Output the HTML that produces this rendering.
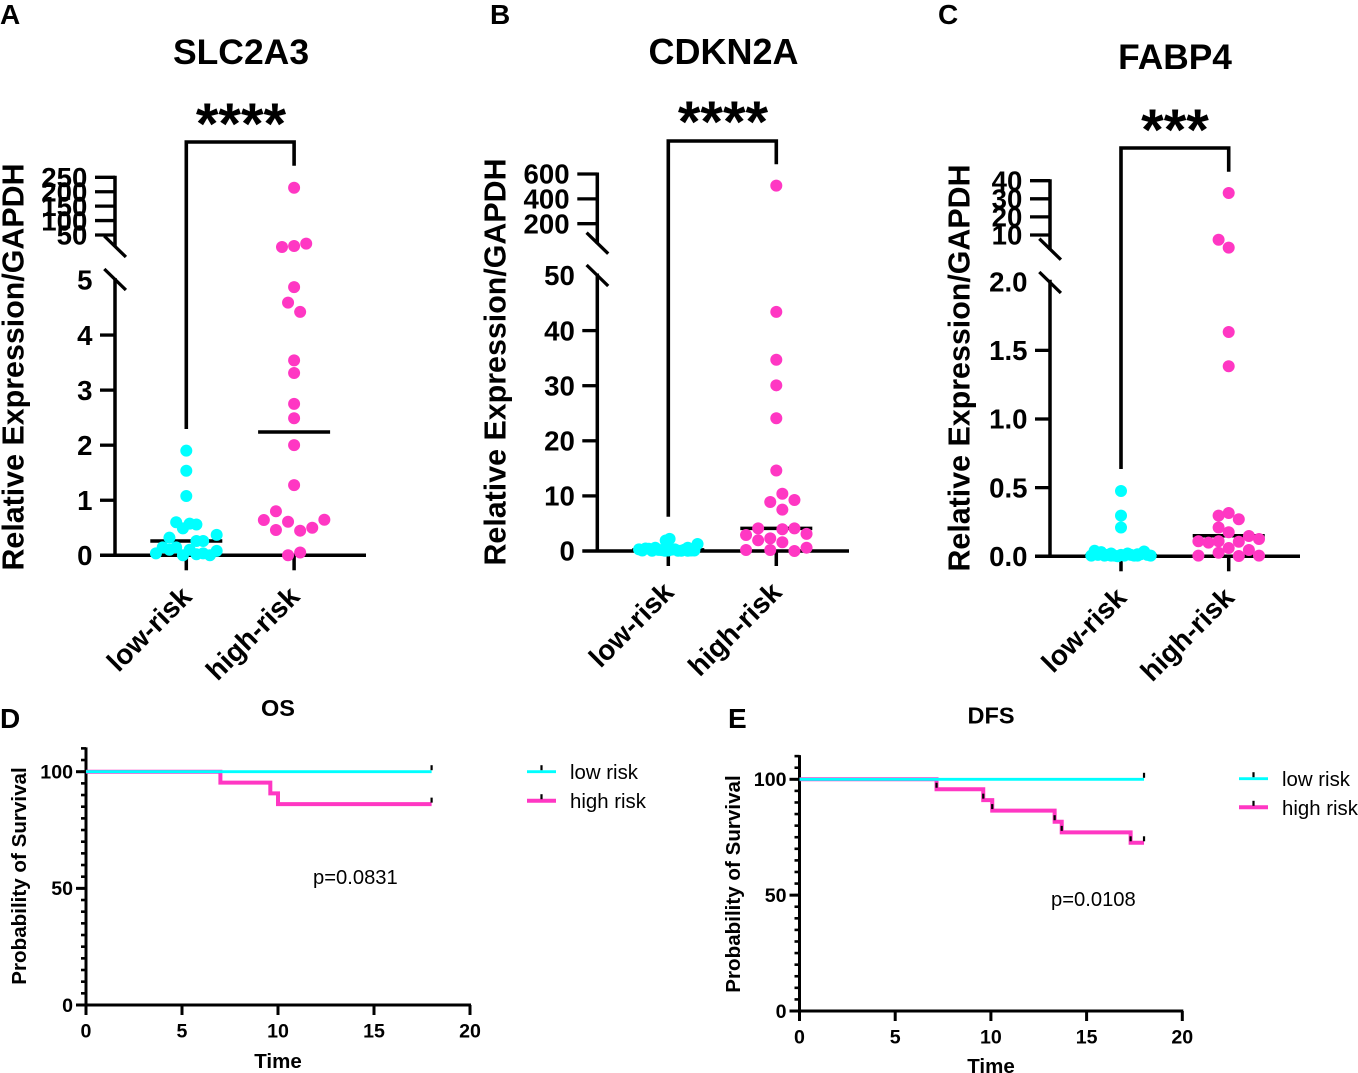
<!DOCTYPE html>
<html>
<head>
<meta charset="utf-8">
<title>Expression and survival panels</title>
<style>
html,body{margin:0;padding:0;background:#fff;}
svg{display:block;font-family:"Liberation Sans",sans-serif;}
.b{font-weight:bold;}
</style>
</head>
<body>
<svg id="fig" width="1358" height="1073" viewBox="0 0 1358 1073" xmlns="http://www.w3.org/2000/svg">
<rect width="1358" height="1073" fill="#fff"/>
<text class="b" x="0" y="24" font-size="28">A</text>
<text class="b" x="490" y="24" font-size="28">B</text>
<text class="b" x="938" y="24" font-size="28">C</text>
<text class="b" x="0" y="728" font-size="28">D</text>
<text class="b" x="728" y="728" font-size="28">E</text>

<text class="b" x="241" y="64" font-size="35.5" text-anchor="middle">SLC2A3</text>
<text class="b" x="723.5" y="64" font-size="36" text-anchor="middle">CDKN2A</text>
<text class="b" x="1175" y="69" font-size="35.3" text-anchor="middle">FABP4</text>

<text class="b" x="241" y="144" font-size="58" text-anchor="middle">****</text>
<text class="b" x="723" y="142" font-size="58" text-anchor="middle">****</text>
<text class="b" x="1175" y="150" font-size="58" text-anchor="middle">***</text>

<text class="b" font-size="30.4" text-anchor="middle" transform="translate(23.5 367) rotate(-90)">Relative Expression/GAPDH</text>
<text class="b" font-size="30.4" text-anchor="middle" transform="translate(505.5 362) rotate(-90)">Relative Expression/GAPDH</text>
<text class="b" font-size="30.4" text-anchor="middle" transform="translate(969.5 368) rotate(-90)">Relative Expression/GAPDH</text>

<text class="b" x="278" y="716" font-size="23.5" text-anchor="middle">OS</text>
<text class="b" x="991" y="723.5" font-size="23.5" text-anchor="middle">DFS</text>
<text class="b" x="278" y="1068" font-size="20.5" text-anchor="middle">Time</text>
<text class="b" x="991" y="1073" font-size="20.5" text-anchor="middle">Time</text>
<text class="b" font-size="20.6" text-anchor="middle" transform="translate(26 876) rotate(-90)">Probability of Survival</text>
<text class="b" font-size="20.6" text-anchor="middle" transform="translate(740 884) rotate(-90)">Probability of Survival</text>
<text x="313" y="884" font-size="20.2">p=0.0831</text>
<text x="1051" y="906" font-size="20.2">p=0.0108</text>
<text x="570" y="779" font-size="20.4">low risk</text>
<text x="570" y="808" font-size="20.4">high risk</text>
<text x="1282" y="786" font-size="20.4">low risk</text>
<text x="1282" y="815" font-size="20.4">high risk</text>
</svg>

<script>
// ---------- Chart data ----------
const groupLabels = ['low-risk', 'high-risk'];

const slcLowValues  = [1.90, 1.535, 1.076, 0.60, 0.49, 0.575, 0.56, 0.32, 0.37, 0.26, 0.26, 0.145, 0.035, 0.10, 0.145, 0, 0.10, 0.02, 0.035, 0, 0.08];
const slcLowSlots   = [0, 0, 0, -1.5, -0.5, 0.5, 1.5, -2.5, 4.5, 1.5, 2.5, -3.5, -4.5, -2.5, -1.5, -0.5, 0.5, 1.5, 2.5, 3.5, 4.5];
const slcHighValues = [213.7, 8.5, 12, 20, 4.87, 4.59, 4.42, 3.54, 3.31, 2.75, 2.49, 2.0, 1.275, 0.80, 0.64, 0.61, 0.645, 0.46, 0.447, 0.50, 0, 0.05];
const slcHighSlots  = [0, -1, 0, 1, 0, -0.5, 0.5, 0, 0, 0, 0, 0, 0, -1.5, -2.5, -0.5, 2.5, -1.5, 0.5, 1.5, -0.5, 0.5];
const slcCenterLines = [0.26, 2.24];
const slcLowerTicks = [0, 1, 2, 3, 4];
const slcLowerTickLabels = ['0', '1', '2', '3', '4', '5'];
const slcUpperTicks = [50, 100, 150, 200, 250];

const cdkLowValues  = [2.2, 1.9, 1.27, 0.3, 0.45, 0.05, 0.2, 0.05, 0.25, 0.05, 0.25, 0.1, 0.4, 0.6, 0.1, 0.3, 0.05, 0.6, 0.2, 0.1, 0.1, 0.15, 0.05];
const cdkLowSlots   = [0.2, -0.4, 4.5, -4.5, -3.5, -2.5, -1.5, -0.5, 0.5, 1.5, 2.5, 3.5, -3, -2, 0, 1, 2, 3, 4, 4, -4, -1, 3];
const cdkHighValues = [506, 43.4, 34.7, 30.07, 24.1, 14.6, 10.4, 8.9, 9.25, 7.5, 4.1, 3.95, 4.1, 2.9, 3.1, 1.94, 2.3, 1.58, 0.18, 0.18, 0, 0.6];
const cdkHighSlots  = [0, 0, 0, 0, 0, 0, 0.5, -0.5, 1.5, 0.5, -1.5, 0.5, 1.5, -2.5, 2.5, -1.5, -0.5, 0.5, -2.5, -0.5, 1.5, 2.5];
const cdkCenterLines = [0.2, 4.1];
const cdkLowerTicks = [0, 10, 20, 30, 40];
const cdkLowerTickLabels = ['0', '10', '20', '30', '40', '50'];
const cdkUpperTicks = [200, 400, 600];

const fabLowValues  = [0.476, 0.296, 0.21, 0.005, 0.04, 0.01, 0.03, 0.005, 0.02, 0.0, 0.005, 0.005, 0.02, 0.01, 0.005, 0.015, 0.035, 0.01, 0.005, 0.01, 0.005, 0.01, 0.005, 0.015];
const fabLowSlots   = [0, 0, 0, -4.5, -4, -3.5, -3, -2.5, -1.5, -0.5, -1, 0.5, 1, 1.5, 2.5, 3, 3.5, 4, 4.5, -2, -1.5, 0, 2, 2.5];
const fabHighValues = [33.2, 7.4, 3, 1.634, 1.384, 0.315, 0.296, 0.27, 0.21, 0.175, 0.148, 0.126, 0.11, 0.10, 0.11, 0.106, 0.06, 0.046, 0.005, 0.026, 0.002, 0.005];
const fabHighSlots  = [0, -1, 0, 0, 0, 0, -1, 1, -1, 0, 2, 3, -3, -2, -1, 1, 0, 2, -3, -1, 1, 3];
const fabCenterLines = [0.005, 0.15];
const fabLowerTicks = [0, 0.5, 1.0, 1.5];
const fabLowerTickLabels = ['0.0', '0.5', '1.0', '1.5', '2.0'];
const fabUpperTicks = [10, 20, 30, 40];

const survivalTicks = [0, 50, 100];
const survivalMinorTicks = [0, 5, 10, 15, 20, 25, 30, 35, 40, 45, 50, 55, 60, 65, 70, 75, 80, 85, 90, 95, 100, 105, 110];
const timeTicks = [0, 5, 10, 15, 20];

const osLowTimes = [0, 18];
const osLowSurvival = [100, 100];
const osHighTimes = [0, 7, 9.6, 10, 18];
const osHighSurvival = [100, 95.3, 90.7, 86.1, 86.1];
const osLowCensorTimes = [18];
const osHighCensorTimes = [18];

const dfsLowTimes = [0, 18];
const dfsLowSurvival = [100, 100];
const dfsHighTimes = [0, 7.16, 9.6, 10.07, 13.33, 13.7, 17.3, 18];
const dfsHighSurvival = [100, 95.7, 91, 86.5, 81.7, 77.1, 72.6, 72.6];
const dfsLowCensorTimes = [18];
const dfsHighCensorTimes = [7.16, 9.6, 10.07, 13.33, 13.7, 17.3, 18];

// ---------- Rendering ----------
const CYAN = '#00ffff';
const PINK = '#ff37c3';
const NS = 'http://www.w3.org/2000/svg';
const fig = document.getElementById('fig');

function svgEl(tag, attrs, parent) {
  const el = document.createElementNS(NS, tag);
  for (const k in attrs) el.setAttribute(k, attrs[k]);
  (parent || fig).appendChild(el);
  return el;
}
function linearScale(d0, d1, r0, r1) {
  return v => r0 + (v - d0) * (r1 - r0) / (d1 - d0);
}
function seg(x1, y1, x2, y2, w, group) {
  return svgEl('line', {x1: x1, y1: y1, x2: x2, y2: y2, stroke: '#000', 'stroke-width': w}, group);
}

function drawDotPlot(cfg) {
  const g = svgEl('g', {});
  
  

  const lowerY = linearScale(0, cfg.lowerMax, cfg.zeroY, cfg.lowerMaxY);
  const upperY = linearScale(cfg.upperA, cfg.upperB, cfg.upperAY, cfg.upperBY);
  const y = v => v > cfg.lowerMax ? upperY(v) : lowerY(v);
  const catX = i => cfg.cat0X + i * cfg.catStep;

  // y axis lower segment
  const axisLower = seg(cfg.axisX, cfg.zeroY + 1.5, cfg.axisX, lowerY(cfg.lowerMax) - 2, 3.5, g);
  
  
  // y axis upper segment
  const axisUpper = seg(cfg.axisX, upperY(cfg.upperMaxTick) - 1.5, cfg.axisX, cfg.upperAxisEnd, 3.5, g);
  
  

  // axis break marks
  const slashA = seg(cfg.axisX - 10.7, cfg.slash1Y, cfg.axisX + 10.9, cfg.slash1Y + 21, 3.3, g);
  
  
  const slashB = seg(cfg.axisX - 10.7, cfg.slash2Y, cfg.axisX + 10.9, cfg.slash2Y + 21, 3.3, g);
  
  

  // lower ticks
  cfg.lowerTicks.forEach(v => {
    if (v === 0) return;
    const t = seg(cfg.axisX - 15, lowerY(v), cfg.axisX, lowerY(v), 3.3, g);
    
    
  });
  cfg.lowerLabels.forEach((s, i) => {
    const v = i * cfg.lowerMax / (cfg.lowerLabels.length - 1);
    const lb = svgEl('text', {x: cfg.axisX - 22.5, y: lowerY(v) + 9.7, 'font-size': 27.6, 'font-weight': 'bold', 'text-anchor': 'end'}, g);
    lb.textContent = s;
    
    
  });
  // upper ticks
  cfg.upperTicks.forEach(v => {
    const t = seg(cfg.axisX - 20, upperY(v), cfg.axisX, upperY(v), 3.3, g);
    
    
    const lb = svgEl('text', {x: cfg.axisX - 27.7, y: upperY(v) + 9.7, 'font-size': 27.6, 'font-weight': 'bold', 'text-anchor': 'end'}, g);
    lb.textContent = String(v);
    
    
  });

  // x axis
  const xAxis = seg(cfg.axisX - 15, cfg.zeroY, cfg.xAxisEnd, cfg.zeroY, 3.5, g);
  
  
  groupLabels.forEach((s, i) => {
    const t = seg(catX(i), cfg.zeroY, catX(i), cfg.zeroY + 15, 3.5, g);
    
    
    const ax = catX(i) + 7;
    const ay = cfg.zeroY + 43;
    const lb = svgEl('text', {'font-size': 28, 'font-weight': 'bold', 'text-anchor': 'end',
      transform: 'translate(' + ax + ' ' + ay + ') rotate(-45)'}, g);
    lb.textContent = s;
    
    
  });

  // significance bracket
  const bracket = svgEl('path', {
    d: 'M' + catX(0) + ' ' + cfg.bracketLeftEnd + 'V' + cfg.bracketY + 'H' + catX(1) + 'V' + cfg.bracketRightEnd,
    fill: 'none', stroke: '#000', 'stroke-width': 3.6}, g);
  
  

  // center lines
  cfg.centers.forEach((v, i) => {
    const m = seg(catX(i) - 36, y(v), catX(i) + 36, y(v), 3.5, g);
    
    
  });

  // low-risk dots
  cfg.lowValues.forEach((v, i) => {
    const c = svgEl('circle', {cx: catX(0) + cfg.lowSlots[i] * cfg.lowPitch, cy: y(v), r: 6, fill: CYAN}, g);
    
    
  });
  // high-risk dots
  cfg.highValues.forEach((v, i) => {
    const c = svgEl('circle', {cx: catX(1) + cfg.highSlots[i] * cfg.highPitch, cy: y(v), r: 6, fill: PINK}, g);
    
    
  });
}

function stepPath(times, surv, x, y) {
  let d = 'M' + x(times[0]) + ' ' + y(surv[0]);
  for (let i = 1; i < times.length; i++) {
    d += 'H' + x(times[i]) + 'V' + y(surv[i]);
  }
  return d;
}

function drawSurvival(cfg) {
  const g = svgEl('g', {});
  
  
  const x = linearScale(0, 20, cfg.x0, cfg.x20);
  const y = linearScale(0, 100, cfg.y0, cfg.y100);

  const yAxis = seg(cfg.x0, y(110) - 1, cfg.x0, cfg.y0 + 1, 3, g);
  
  
  const xAxis = seg(cfg.x0 - 10, cfg.y0, cfg.x20 + 1, cfg.y0, 3, g);
  
  

  survivalMinorTicks.forEach(v => {
    const t = seg(cfg.x0 - 5, y(v), cfg.x0, y(v), 2.6, g);
    
    
  });
  survivalTicks.forEach(v => {
    const t = seg(cfg.x0 - 10, y(v), cfg.x0, y(v), 3, g);
    
    
    const lb = svgEl('text', {x: cfg.x0 - 13, y: y(v) + 6.8, 'font-size': 19.6, 'font-weight': 'bold', 'text-anchor': 'end'}, g);
    lb.textContent = String(v);
    
    
  });
  timeTicks.forEach(v => {
    const t = seg(x(v), cfg.y0, x(v), cfg.y0 + 10, 3, g);
    
    
    const lb = svgEl('text', {x: x(v), y: cfg.y0 + 32.5, 'font-size': 19.6, 'font-weight': 'bold', 'text-anchor': 'middle'}, g);
    lb.textContent = String(v);
    
    
  });

  const high = svgEl('path', {d: stepPath(cfg.highTimes, cfg.highSurv, x, y), fill: 'none', stroke: PINK, 'stroke-width': 4}, g);
  
  
  const low = svgEl('path', {d: stepPath(cfg.lowTimes, cfg.lowSurv, x, y), fill: 'none', stroke: CYAN, 'stroke-width': 2.8}, g);
  
  

  function survAt(times, surv, t) {
    let s = surv[0];
    times.forEach((tt, i) => { if (tt <= t) s = surv[i]; });
    return s;
  }
  cfg.highCensor.forEach(t => {
    const m = seg(x(t), y(survAt(cfg.highTimes, cfg.highSurv, t)) - 6.5, x(t), y(survAt(cfg.highTimes, cfg.highSurv, t)) - 1.5, 2.2, g);
    
    
  });
  cfg.lowCensor.forEach(t => {
    const m = seg(x(t), y(survAt(cfg.lowTimes, cfg.lowSurv, t)) - 6.5, x(t), y(survAt(cfg.lowTimes, cfg.lowSurv, t)) - 1.5, 2.2, g);
    
    
  });

  // legend samples
  const lowKey = seg(cfg.keyX, cfg.keyLowY, cfg.keyX + 29, cfg.keyLowY, 2.8, g);
  lowKey.setAttribute('stroke', CYAN);
  
  
  const lowKeyTick = seg(cfg.keyX + 14.5, cfg.keyLowY - 6.5, cfg.keyX + 14.5, cfg.keyLowY - 1.5, 2.2, g);
  
  
  const highKey = seg(cfg.keyX, cfg.keyHighY, cfg.keyX + 29, cfg.keyHighY, 4, g);
  highKey.setAttribute('stroke', PINK);
  
  
  const highKeyTick = seg(cfg.keyX + 14.5, cfg.keyHighY - 6.5, cfg.keyX + 14.5, cfg.keyHighY - 1.5, 2.2, g);
  
  
}

drawDotPlot({
  name: 'slc2a3', axisX: 115, zeroY: 555.3, lowerMax: 5, lowerMaxY: 280,
  upperA: 50, upperB: 250, upperAY: 235, upperBY: 177.3, upperMaxTick: 250, upperAxisEnd: 247,
  slash1Y: 236, slash2Y: 269, cat0X: 186.3, catStep: 107.8, xAxisEnd: 366,
  bracketY: 142, bracketLeftEnd: 429, bracketRightEnd: 165.7,
  lowerTicks: slcLowerTicks, lowerLabels: slcLowerTickLabels, upperTicks: slcUpperTicks,
  lowValues: slcLowValues, lowSlots: slcLowSlots, highValues: slcHighValues, highSlots: slcHighSlots,
  centers: slcCenterLines, lowPitch: 6.75, highPitch: 12.1
});
drawDotPlot({
  name: 'cdkn2a', axisX: 597.3, zeroY: 551, lowerMax: 50, lowerMaxY: 275.5,
  upperA: 200, upperB: 600, upperAY: 223.7, upperBY: 174, upperMaxTick: 600, upperAxisEnd: 244,
  slash1Y: 232.7, slash2Y: 265, cat0X: 668.3, catStep: 108, xAxisEnd: 849,
  bracketY: 141, bracketLeftEnd: 516.7, bracketRightEnd: 164.3,
  lowerTicks: cdkLowerTicks, lowerLabels: cdkLowerTickLabels, upperTicks: cdkUpperTicks,
  lowValues: cdkLowValues, lowSlots: cdkLowSlots, highValues: cdkHighValues, highSlots: cdkHighSlots,
  centers: cdkCenterLines, lowPitch: 6.5, highPitch: 12.1
});
drawDotPlot({
  name: 'fabp4', axisX: 1050, zeroY: 556.3, lowerMax: 2, lowerMaxY: 281.7,
  upperA: 10, upperB: 40, upperAY: 235, upperBY: 180.7, upperMaxTick: 40, upperAxisEnd: 250,
  slash1Y: 238.7, slash2Y: 272, cat0X: 1121, catStep: 107.7, xAxisEnd: 1300,
  bracketY: 148, bracketLeftEnd: 469, bracketRightEnd: 171.7,
  lowerTicks: fabLowerTicks, lowerLabels: fabLowerTickLabels, upperTicks: fabUpperTicks,
  lowValues: fabLowValues, lowSlots: fabLowSlots, highValues: fabHighValues, highSlots: fabHighSlots,
  centers: fabCenterLines, lowPitch: 6.6, highPitch: 10.1
});
drawSurvival({
  name: 'os', x0: 86, x20: 470, y0: 1005, y100: 771.7,
  lowTimes: osLowTimes, lowSurv: osLowSurvival, highTimes: osHighTimes, highSurv: osHighSurvival,
  lowCensor: osLowCensorTimes, highCensor: osHighCensorTimes,
  keyX: 527, keyLowY: 771.7, keyHighY: 800.7
});
drawSurvival({
  name: 'dfs', x0: 799.5, x20: 1182.3, y0: 1011, y100: 779.3,
  lowTimes: dfsLowTimes, lowSurv: dfsLowSurvival, highTimes: dfsHighTimes, highSurv: dfsHighSurvival,
  lowCensor: dfsLowCensorTimes, highCensor: dfsHighCensorTimes,
  keyX: 1239, keyLowY: 778.7, keyHighY: 807.3
});
</script>
</body>
</html>
